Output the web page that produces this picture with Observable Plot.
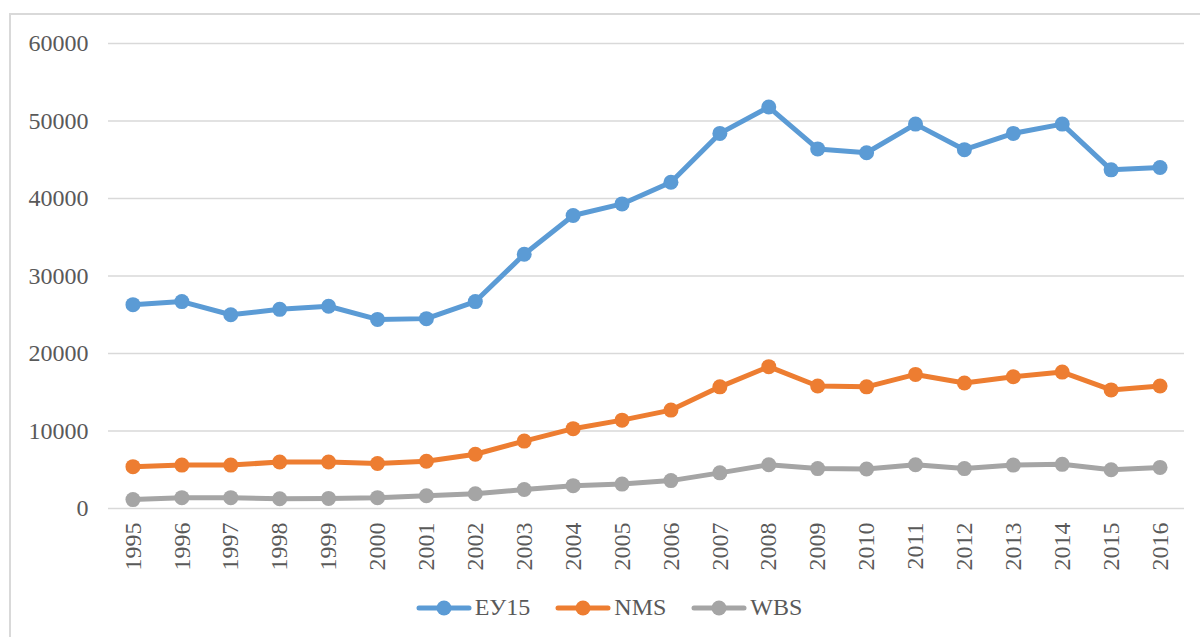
<!DOCTYPE html>
<html>
<head>
<meta charset="utf-8">
<script src="https://cdn.jsdelivr.net/npm/d3@7"></script>
<script src="https://cdn.jsdelivr.net/npm/@observablehq/plot@0.6"></script>
<style>
  html, body { margin: 0; padding: 0; background: #fff; overflow: hidden; }
  #wrap { position: relative; width: 1200px; height: 637px; font-family: "Liberation Serif", "Times New Roman", serif; }
  #frame { position: absolute; left: 9px; top: 13px; width: 1300px; height: 700px; border: 2px solid #d9d9d9; box-sizing: border-box; }
  #chart { position: absolute; left: 0; top: 0; }
  #legend { position: absolute; left: 0; top: 594px; width: 1200px; display: flex; justify-content: center; align-items: center; gap: 25px; font-size: 24px; color: #595959; padding-left: 18px; box-sizing: border-box; }
  .item { display: flex; align-items: center; gap: 3px; }
</style>
</head>
<body>
<div id="wrap">
  <div id="frame"></div>
  <div id="chart"></div>
  <div id="legend"></div>
</div>
<script>
const years = ["1995","1996","1997","1998","1999","2000","2001","2002","2003","2004","2005","2006","2007","2008","2009","2010","2011","2012","2013","2014","2015","2016"];
const eu15 = [26300, 26700, 25000, 25700, 26100, 24400, 24500, 26700, 32800, 37800, 39300, 42100, 48400, 51800, 46400, 45900, 49600, 46300, 48400, 49600, 43700, 44000];
const nms  = [5400, 5600, 5600, 6000, 6000, 5800, 6100, 7000, 8700, 10300, 11400, 12700, 15700, 18300, 15800, 15700, 17300, 16200, 17000, 17600, 15300, 15800];
const wbs  = [1150, 1400, 1400, 1250, 1300, 1400, 1650, 1900, 2450, 2950, 3150, 3600, 4600, 5650, 5150, 5100, 5650, 5150, 5600, 5700, 5000, 5300];
const seriesNames = ["ЕУ15", "NMS", "WBS"];
const seriesColors = ["#5B9BD5", "#ED7D31", "#A5A5A5"];
const yTicks = [0, 10000, 20000, 30000, 40000, 50000, 60000];

const seriesValues = [eu15, nms, wbs];
const data = [];
seriesNames.forEach((s, i) => years.forEach((y, j) => data.push({series: s, year: y, value: seriesValues[i][j]})));

const plot = Plot.plot({
  width: 1200,
  height: 585,
  marginLeft: 108,
  marginRight: 16,
  marginTop: 43,
  marginBottom: 77,
  style: { fontFamily: "Liberation Serif, Times New Roman, serif", fontSize: "24px", color: "#595959", background: "transparent" },
  x: { type: "point", domain: years, padding: 0.5, round: false, label: null, tickSize: 0, tickPadding: 14, tickRotate: -90 },
  y: { domain: [0, 60000], ticks: yTicks, label: null, tickSize: 0, tickPadding: 20, tickFormat: d => String(d) },
  color: { domain: seriesNames, range: seriesColors },
  marks: [
    Plot.ruleY(yTicks, { stroke: "#d9d9d9", strokeWidth: 1.5, strokeOpacity: 1 }),
    Plot.line(data, { x: "year", y: "value", z: "series", stroke: "series", strokeWidth: 5, curve: "linear" }),
    Plot.dot(data, { x: "year", y: "value", fill: "series", r: 7.5, stroke: null })
  ]
});
document.getElementById("chart").appendChild(plot);

const legend = document.getElementById("legend");
seriesNames.forEach((name, i) => {
  const item = document.createElement("div");
  item.className = "item";
  item.innerHTML = `<svg width="56" height="18"><line x1="3" x2="53" y1="9" y2="9" stroke="${seriesColors[i]}" stroke-width="5" stroke-linecap="round"/><circle cx="28" cy="9" r="7.5" fill="${seriesColors[i]}"/></svg><span>${name}</span>`;
  legend.appendChild(item);
});
</script>
</body>
</html>
